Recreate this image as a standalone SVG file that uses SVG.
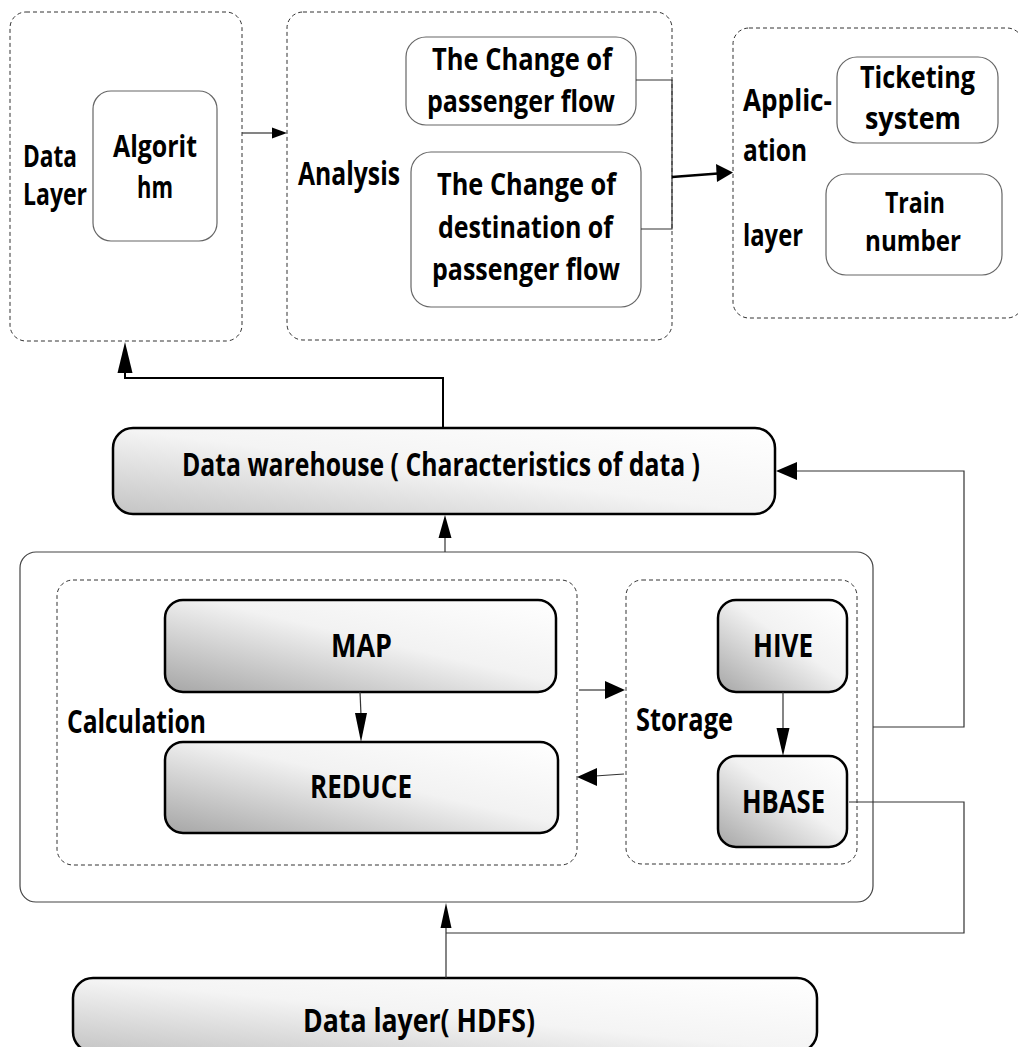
<svg xmlns="http://www.w3.org/2000/svg" width="1018" height="1047" viewBox="0 0 1018 1047">
<style>
text{font-family:"Open Sans","Noto Sans","Liberation Sans",sans-serif;font-weight:700;font-size:31px;fill:#000}
text.big{font-size:33px}
text.sm{font-size:29px}
.dash{fill:none;stroke:#333;stroke-width:1;stroke-dasharray:4 3}
.soft{fill:#fff;stroke:#666;stroke-width:1.2}
.thick{stroke:#000;stroke-width:2.5}
.outer{fill:#fff;stroke:#444;stroke-width:1.2}
.ln{fill:none;stroke:#333;stroke-width:1.2}
.lnb{fill:none;stroke:#000;stroke-width:2}
.ah{fill:#000;stroke:none}
</style>
<defs>
<linearGradient id="g1" x1="0" y1="1" x2="1" y2="0">
<stop offset="0" stop-color="#a6a6a6"/><stop offset="0.55" stop-color="#f2f2f2"/><stop offset="1" stop-color="#ffffff"/>
</linearGradient>
<linearGradient id="g2" x1="0" y1="1" x2="1" y2="0">
<stop offset="0" stop-color="#c4c4c4"/><stop offset="0.5" stop-color="#f4f4f4"/><stop offset="1" stop-color="#ffffff"/>
</linearGradient>
</defs>
<rect width="1018" height="1047" fill="#fff"/>

<g id="data-layer-top">
<rect class="dash" x="10" y="12" width="232" height="329" rx="16"/>
<text x="23" y="167" textLength="54" lengthAdjust="spacingAndGlyphs">Data</text>
<text x="23" y="205" textLength="64" lengthAdjust="spacingAndGlyphs">Layer</text>
</g>
<g id="algorithm">
<rect class="soft" x="93" y="91" width="124" height="150" rx="18"/>
<text x="113" y="157" textLength="84" lengthAdjust="spacingAndGlyphs">Algorit</text>
<text x="137" y="198" textLength="36" lengthAdjust="spacingAndGlyphs">hm</text>
</g>

<g id="analysis">
<rect class="dash" x="287" y="12" width="385" height="328" rx="16"/>
<text class="big" x="298" y="185" textLength="102" lengthAdjust="spacingAndGlyphs">Analysis</text>
</g>
<g id="change-flow">
<rect class="soft" x="406" y="37" width="230" height="88" rx="20"/>
<text x="432" y="70" textLength="180" lengthAdjust="spacingAndGlyphs">The Change of</text>
<text x="427" y="112" textLength="188" lengthAdjust="spacingAndGlyphs">passenger flow</text>
</g>
<g id="change-destination">
<rect class="soft" x="411" y="152" width="230" height="155" rx="20"/>
<text x="437" y="195" textLength="179" lengthAdjust="spacingAndGlyphs">The Change of</text>
<text x="438" y="238" textLength="175" lengthAdjust="spacingAndGlyphs">destination of</text>
<text x="432" y="280" textLength="188" lengthAdjust="spacingAndGlyphs">passenger flow</text>
</g>

<g id="application-layer">
<rect class="dash" x="733" y="28" width="290" height="290" rx="16"/>
<text x="743" y="111" textLength="89" lengthAdjust="spacingAndGlyphs">Applic-</text>
<text x="743" y="161" textLength="64" lengthAdjust="spacingAndGlyphs">ation</text>
<text x="743" y="246" textLength="60" lengthAdjust="spacingAndGlyphs">layer</text>
</g>
<g id="ticketing">
<rect class="soft" x="837" y="57" width="161" height="86" rx="20"/>
<text x="860" y="88" textLength="115" lengthAdjust="spacingAndGlyphs">Ticketing</text>
<text x="865" y="129" textLength="96" lengthAdjust="spacingAndGlyphs">system</text>
</g>
<g id="train">
<rect class="soft" x="826" y="174" width="176" height="101" rx="20"/>
<text class="sm" x="885" y="213" textLength="60" lengthAdjust="spacingAndGlyphs">Train</text>
<text class="sm" x="865" y="251" textLength="96" lengthAdjust="spacingAndGlyphs">number</text>
</g>

<g id="warehouse">
<rect class="thick" fill="url(#g2)" x="113" y="428" width="662" height="86" rx="20"/>
<text class="big" x="182" y="476" textLength="518" lengthAdjust="spacingAndGlyphs">Data warehouse ( Characteristics of data )</text>
</g>

<g id="processing">
<rect class="outer" x="20" y="552" width="853" height="350" rx="16"/>
</g>
<g id="calculation">
<rect class="dash" x="57" y="580" width="520" height="285" rx="16"/>
<text class="big" x="67" y="733" textLength="139" lengthAdjust="spacingAndGlyphs">Calculation</text>
</g>
<g id="map">
<rect class="thick" fill="url(#g1)" x="165" y="600" width="391" height="92" rx="18"/>
<text class="big" x="331" y="657" textLength="61" lengthAdjust="spacingAndGlyphs">MAP</text>
</g>
<g id="reduce">
<rect class="thick" fill="url(#g1)" x="165" y="742" width="393" height="91" rx="18"/>
<text class="big" x="310" y="798" textLength="102" lengthAdjust="spacingAndGlyphs">REDUCE</text>
</g>
<g id="storage">
<rect class="dash" x="626" y="580" width="231" height="284" rx="16"/>
<text class="big" x="636" y="731" textLength="97" lengthAdjust="spacingAndGlyphs">Storage</text>
</g>
<g id="hive">
<rect class="thick" fill="url(#g1)" x="718" y="600" width="129" height="92" rx="18"/>
<text class="big" x="753" y="657" textLength="60" lengthAdjust="spacingAndGlyphs">HIVE</text>
</g>
<g id="hbase">
<rect class="thick" fill="url(#g1)" x="718" y="756" width="129" height="91" rx="18"/>
<text class="big" x="742" y="813" textLength="83" lengthAdjust="spacingAndGlyphs">HBASE</text>
</g>

<g id="hdfs">
<rect class="thick" fill="url(#g2)" x="73" y="978" width="744" height="74" rx="20"/>
<text class="big" x="303" y="1032" textLength="232" lengthAdjust="spacingAndGlyphs">Data layer( HDFS)</text>
</g>

<g id="connectors">
<line class="ln" x1="242" y1="133" x2="274" y2="133"/>
<polygon class="ah" points="287,133 272,127.5 272,138.5"/>

<polyline class="ln" points="636,80 672,80 672,229 641,229"/>
<line x1="672" y1="177" x2="718" y2="173.5" stroke="#000" stroke-width="2.5"/>
<polygon class="ah" points="733,172.5 716,164 717,182"/>

<polyline class="lnb" points="443,428 443,378 125,378 125,370"/>
<polygon class="ah" points="125,342 117.5,373 132.5,373"/>

<line class="ln" x1="445" y1="552" x2="445" y2="536"/>
<polygon class="ah" points="445,515 438.5,538 451.5,538"/>

<polyline class="ln" points="873,727 964,727 964,471 795,471"/>
<polygon class="ah" points="776,471 797,462 797,480"/>

<line class="ln" x1="360" y1="692" x2="361" y2="715"/>
<polygon class="ah" points="361,742 355,713 367,713"/>

<line class="ln" x1="579" y1="690" x2="607" y2="690"/>
<polygon class="ah" points="625,690 605,681 605,699"/>

<line class="ln" x1="624" y1="774" x2="595" y2="776"/>
<polygon class="ah" points="577,777 597,768 597,786"/>

<line class="ln" x1="783" y1="692" x2="783" y2="730"/>
<polygon class="ah" points="783,756 776.5,728 789.5,728"/>

<polyline class="ln" points="849,802 964,802 964,933 446,933"/>
<line class="ln" x1="446" y1="978" x2="446" y2="926"/>
<polygon class="ah" points="446,903 440.5,928 451.5,928"/>
</g>
</svg>
